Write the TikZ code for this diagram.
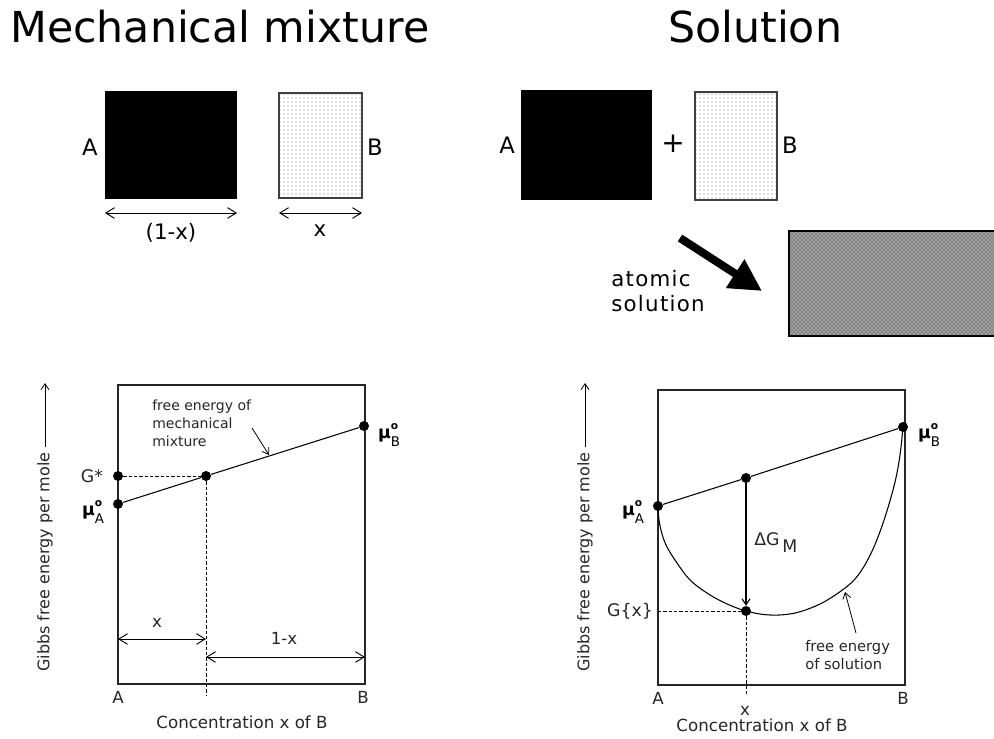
\documentclass[tikz,border=0pt]{standalone}
\usepackage{fontspec}
\setmainfont{DejaVu Sans}
\usetikzlibrary{arrows.meta,patterns}
\newcommand\mylabmu[1]{\textbf{μ}\rlap{\raisebox{0.5em}{\fontsize{8}{8}\selectfont\bfseries o}}\raisebox{-0.45em}{\fontsize{10}{10}\selectfont #1}}
\begin{document}
\begin{tikzpicture}[x=0.75pt,y=-0.75pt,
  title/.style={font=\fontsize{32}{38}\selectfont, inner sep=0pt},
  big/.style={font=\fontsize{17}{20}\selectfont, inner sep=0pt},
  small/.style={font=\fontsize{12.5}{15}\selectfont, text=black!85, inner sep=0pt},
  mulab/.style={font=\fontsize{13}{15}\selectfont, inner sep=0pt},
  note/.style={font=\fontsize{10.5}{13.5}\selectfont, text=black!85, inner sep=0pt, align=left},
  ylab/.style={font=\fontsize{12}{14}\selectfont, text=black!85, inner sep=0pt, rotate=90, anchor=west},
  dim/.style={{Straight Barb[length=6.5pt,width=8pt]}-{Straight Barb[length=6.5pt,width=8pt]}, line width=0.7pt},
  frame/.style={draw=black!85, line width=0.8pt},
  thinl/.style={line width=0.8pt},
  dsh/.style={dash pattern=on 2.5pt off 1.5pt, line width=0.7pt},
  dot/.style={circle, fill=black, inner sep=0pt, minimum size=7.5pt},
  barb/.style={-{Straight Barb[length=4.5pt,width=6pt]}, line width=0.6pt}]
\useasboundingbox (0,0) rectangle (994,738);

% titles
\node[title, anchor=base west] (t1) at (10,43) {Mechanical mixture};
\node[title, anchor=base west] (t2) at (668,43) {Solution};

% top left boxes
\fill[black] (105,91) rectangle (237,199);
\draw[black!75, line width=0.8pt, pattern=dots, pattern color=black!55] (279,93) rectangle (362,198);
\node[big] (la) at (90,147) {A};
\node[big] (lb) at (375,147) {B};
\coordinate (d1a) at (105,213); \coordinate (d1b) at (237,213);
\coordinate (d2a) at (279,213); \coordinate (d2b) at (362,213);
\draw[dim] (d1a) -- (d1b);
\draw[dim] (d2a) -- (d2b);
\node[big, font=\fontsize{16}{18}\selectfont] (l1x) at (171,233) {(1-x)};
\node[big, font=\fontsize{16}{18}\selectfont] (lx) at (320,231) {x};

% top right boxes
\node[big] (ra) at (507,145) {A};
\fill[black] (521,90) rectangle (652,200);
\node[big, font=\fontsize{21}{24}\selectfont] (plus) at (673,144) {+};
\draw[black!75, line width=0.8pt, pattern=dots, pattern color=black!55] (695,92) rectangle (777,200);
\node[big] (rb) at (790,145) {B};

% atomic solution arrow
\coordinate (arrtail) at (680,238);
\coordinate (arrtip) at (762,291);
\draw[line width=6pt, -{Triangle[length=24pt,width=24pt]}] (arrtail) -- (arrtip);
\node[big, font=\fontsize{16}{19}\selectfont\addfontfeatures{LetterSpace=6}, anchor=west] (at1) at (611,279) {atomic};
\node[big, font=\fontsize{16}{19}\selectfont\addfontfeatures{LetterSpace=6}, anchor=west] (at2) at (611,304) {solution};
\fill[black!38] (789,231) rectangle (998,336);
\fill[pattern=crosshatch dots, pattern color=black!80] (789,231) rectangle (998,336);
\draw[line width=1pt] (789,231) rectangle (998,336);

% ---------------- left graph
\draw[frame] (118,385) rectangle (365,684);
\node[dot] (lga) at (118,476) {};
\node[dot] (lmua) at (118,504) {};
\node[dot] (lgm) at (206,476) {};
\node[dot] (lmub) at (364,426) {};
\draw[thinl] (lmua) -- (lgm) -- (lmub);
\draw[dsh] (lga) -- (lgm);
\coordinate (lxb) at (206,695);
\draw[dsh] (lgm) -- (lxb);
\node[small, font=\fontsize{13}{15}\selectfont] (lgs) at (92,476) {G*};
\node[mulab] (lmuat) at (93,512) {\mylabmu{A}};
\node[mulab] (lmubt) at (389,435) {\mylabmu{B}};
\node[note, anchor=north west] (lnote) at (152,400) {free energy of\\mechanical\\mixture};
\coordinate (lna) at (252,428); \coordinate (lnb) at (269,455);
\draw[barb] (lna) -- (lnb);
\coordinate (lx1) at (118,639); \coordinate (lx2) at (206,639);
\coordinate (lr1) at (206,657); \coordinate (lr2) at (365,657);
\draw[dim] (lx1) -- (lx2);
\draw[dim] (lr1) -- (lr2);
\node[small] (lxl) at (157,623) {x};
\node[small] (l1xl) at (284,638) {1-x};
\node[small] (lA) at (118,697) {A};
\node[small] (lB) at (363,697) {B};
\node[small] (lconc) at (242,722) {Concentration x of B};
\node[ylab] (ly) at (45,672) {Gibbs free energy per mole};
\coordinate (lyt) at (45,383);
\draw[barb, shorten <=4pt] (ly.east) -- (lyt);

% ---------------- right graph
\draw[frame] (658,390) rectangle (905,685);
\draw[thinl] plot[smooth, tension=0.6] coordinates {(658,506) (659,520) (662,534) (667,547) (677,563) (690,580) (707,593) (725,603) (746,611) (770,615) (795,613) (820,604) (841,591) (855,579) (866,563) (876,542) (886,514) (895,482) (900,455) (903,427)};
\node[dot] (rmua) at (658,506) {};
\node[dot] (rgm) at (746,478) {};
\node[dot] (rmub) at (903,427) {};
\node[dot] (rgx) at (746,611) {};
\draw[thinl] (rmua) -- (rgm) -- (rmub);
\draw[barb, line width=0.8pt] (rgm) -- (rgx);
\coordinate (rgl) at (658,611);
\draw[dsh] (rgl) -- (rgx);
\coordinate (rxb) at (746,695);
\draw[dsh] (rgx) -- (rxb);
\node[mulab] (rmuat) at (633,512) {\mylabmu{A}};
\node[mulab] (rmubt) at (929,435) {\mylabmu{B}};
\node[small, font=\fontsize{13}{15}\selectfont] (rgxl) at (630,611) {G\{x\}};
\node[small, font=\fontsize{13}{15}\selectfont, anchor=west] (rdg) at (754,543) {ΔG\,\raisebox{-0.4em}{M}};
\node[note, font=\fontsize{11}{13.5}\selectfont, anchor=north west] (rnote) at (805,640) {free energy\\of solution};
\coordinate (rna) at (856,633); \coordinate (rnb) at (845,592);
\draw[barb] (rna) -- (rnb);
\node[small] (rA) at (658,698) {A};
\node[small] (rx) at (745,711) {x};
\node[small] (rB) at (903,698) {B};
\node[small] (rconc) at (762,725) {Concentration x of B};
\node[ylab] (ry) at (585,672) {Gibbs free energy per mole};
\coordinate (ryt) at (585,383);
\draw[barb, shorten <=4pt] (ry.east) -- (ryt);
\end{tikzpicture}
\end{document}
